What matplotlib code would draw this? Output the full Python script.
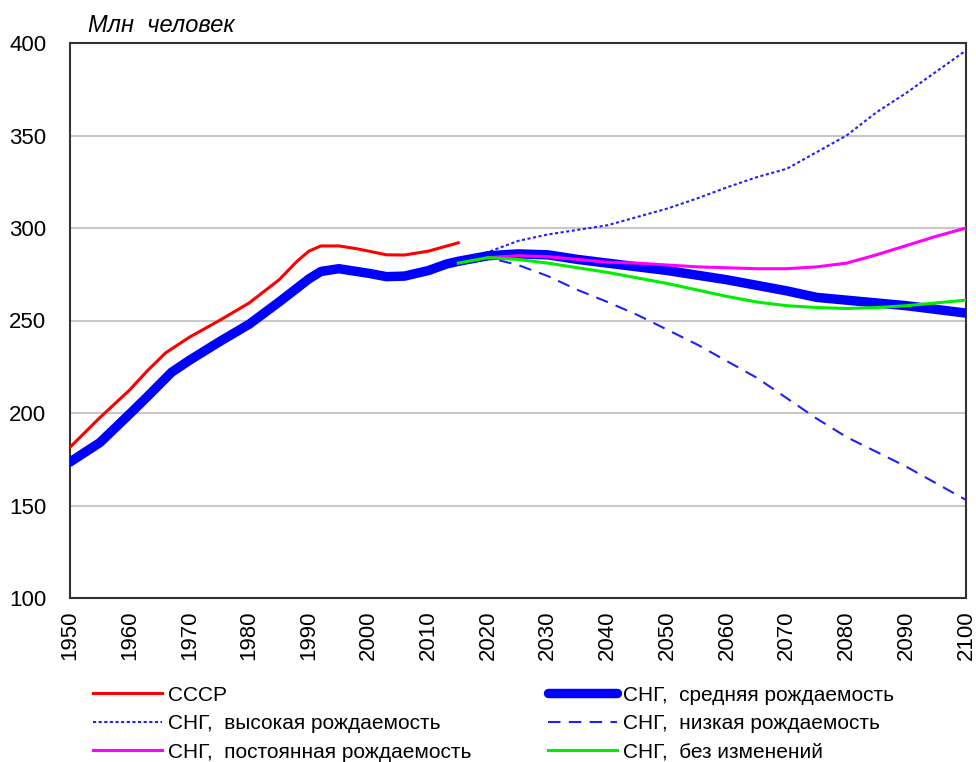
import numpy as np
import matplotlib
matplotlib.use("Agg")
import matplotlib.pyplot as plt

plt.rcParams['font.family'] = ['Liberation Sans', 'DejaVu Sans']

# СССР, млн человек
years_ussr = [1950, 1955, 1960, 1963, 1966, 1970, 1975, 1980, 1985, 1988, 1990,
              1992, 1995, 1998, 2000, 2003, 2006, 2010, 2015]
ussr = [181.5, 197.5, 212.5, 223, 232.5, 241, 250, 259.5, 272, 282, 287.5,
        290.3, 290.3, 288.8, 287.5, 285.5, 285.4, 287.5, 292]

# СНГ, средняя рождаемость
years_medium = [1950, 1955, 1960, 1963, 1967, 1970, 1975, 1980, 1985, 1988, 1990,
                1992, 1995, 1998, 2000, 2003, 2006, 2010, 2013, 2015, 2020, 2025,
                2030, 2035, 2040, 2045, 2050, 2055, 2060, 2065, 2070, 2075, 2080,
                2085, 2090, 2095, 2100]
cis_medium = [173.5, 184, 199.5, 209, 222, 228.5, 238.5, 248, 260, 267.5, 272.5,
              276.5, 278, 276.5, 275.5, 273.7, 274, 277, 280.5, 282, 285, 286,
              285.5, 283, 281, 279, 277, 274.5, 272, 269, 266, 262.5, 261,
              259.5, 258, 256, 254]

# сценарии СНГ с 2015 г.
years_proj = list(range(2015, 2101, 5))
cis_high = [281.5, 287, 293, 296.5, 299, 301.5, 306, 310.5, 316, 322, 327.5, 332,
            341, 350, 362.5, 373, 384.5, 396]
cis_low = [281.5, 284, 280, 274, 266.5, 260, 253, 245, 237, 228, 219, 208, 197,
           187, 179, 171, 162, 153]
cis_nochange = [281, 284, 283, 281, 278.5, 276, 273, 270, 266.5, 263, 260, 258,
                257, 256.5, 257, 258, 259.5, 261]

# СНГ, постоянная рождаемость
years_const = list(range(2020, 2101, 5))
cis_const = [284, 285, 284.5, 283, 281.5, 281, 280, 279, 278.5, 278, 278, 279,
             281, 285.5, 290.5, 295.5, 300]

labels = ["СССР", "СНГ,  средняя рождаемость", "СНГ,  высокая рождаемость",
          "СНГ,  низкая рождаемость", "СНГ,  постоянная рождаемость",
          "СНГ,  без изменений"]

fig = plt.figure(figsize=(9.76, 7.62), dpi=100)
ax = fig.add_axes([70 / 976, 164 / 762, 896 / 976, 555 / 762])

ax.grid(axis='y', color='#c8c8c8', linewidth=1.5, zorder=0)

h_ussr, = ax.plot(years_ussr, ussr, color='#ff0000', lw=2.2, zorder=3)
h_high, = ax.plot(years_proj, cis_high, color='#2020ff', lw=1.5,
                  linestyle=(0, (1.5, 1.2)), zorder=3)
h_low, = ax.plot(years_proj, cis_low, color='#2020ff', lw=1.5,
                 linestyle=(0, (6, 4)), zorder=3)
h_const, = ax.plot(years_const, cis_const, color='#ff00ff', lw=2.2, zorder=4)
h_med, = ax.plot(years_medium, cis_medium, color='#0000ff', lw=6.8, zorder=3,
                 solid_capstyle='round', solid_joinstyle='round')
h_noch, = ax.plot(years_proj, cis_nochange, color='#00ee00', lw=2.2, zorder=4)

ax.set_xlim(1950, 2100)
ax.set_ylim(100, 400)
ax.set_xticks(range(1950, 2101, 10))
ax.set_yticks(range(100, 401, 50))
ax.tick_params(axis='both', length=0, labelsize=16, colors='black')
ax.tick_params(axis='x', labelrotation=90, pad=9)
ax.tick_params(axis='y', pad=17)
for s in ax.spines.values():
    s.set_color('#333333')
    s.set_linewidth(1.5)

fig.text(88 / 976, 1 - 25 / 762, "Млн  человек", fontsize=17, style='italic',
         va='center', ha='left')

handles = [h_ussr, h_high, h_const, h_med, h_low, h_noch]
leg_labels = [labels[0], labels[2], labels[4], labels[1], labels[3], labels[5]]
fig.legend(handles, leg_labels, loc='upper left',
           bbox_to_anchor=(74 / 976, 1 - 667 / 762), ncol=2, frameon=False,
           handlelength=3.3, handletextpad=0.3,
           columnspacing=3.7, labelspacing=0.45,
           prop={'family': ['Liberation Sans'], 'size': 15})

fig.savefig("out.png", dpi=100)
